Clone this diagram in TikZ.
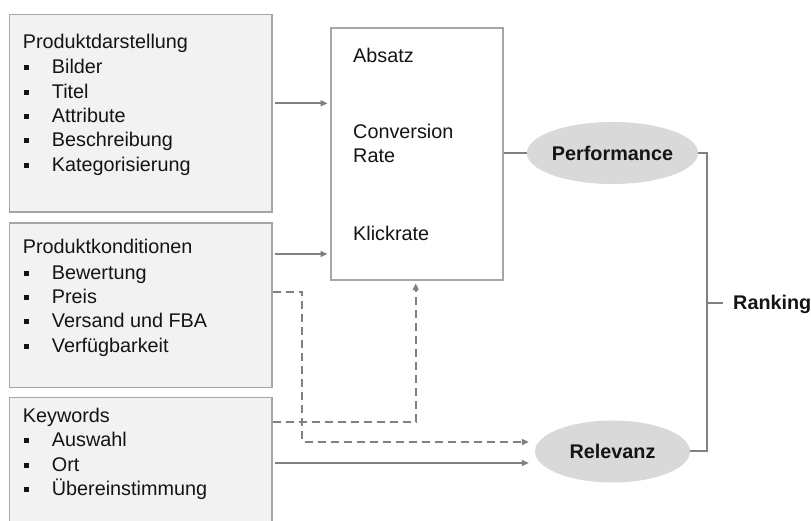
\documentclass[tikz,border=0pt]{standalone}
\usepackage{fontspec}
\setmainfont{Liberation Sans}
\usetikzlibrary{arrows.meta,shapes.geometric}
\definecolor{boxfill}{HTML}{F2F2F2}
\definecolor{boxline}{HTML}{A6A6A6}
\definecolor{connc}{HTML}{808080}
\definecolor{ellfill}{HTML}{D9D9D9}
\definecolor{txt}{HTML}{141414}
\newcommand\bul{\makebox[29pt][l]{\hspace*{1.2pt}\rule[3.8pt]{5pt}{5pt}}}
\begin{document}
\begin{tikzpicture}[x=1pt,y=1pt,
 inbox/.style={draw=boxline, fill=boxfill, line width=1.5pt, inner sep=0, anchor=north west},
 midbox/.style={draw=boxline, fill=white, line width=1.5pt, inner sep=0, anchor=north west},
 lbl/.style={anchor=base west, inner sep=0, text=txt, font=\fontsize{19.8}{23}\selectfont},
 oval/.style={ellipse, fill=ellfill, minimum width=155pt, minimum height=62pt, inner sep=0, text=txt, font=\fontsize{19.8}{23}\selectfont\bfseries},
 conn/.style={draw=connc, line width=2pt},
 arr/.style={conn, -{Triangle[length=7pt,width=6pt]}},
 darr/.style={arr, dash pattern=on 8pt off 5pt},
]
\useasboundingbox (0,0) rectangle (811,521);
% boxes
\node[inbox, minimum width=262.5pt, minimum height=197.5pt] (b1) at (8.5,507) {};
\node[inbox, minimum width=262.5pt, minimum height=164.5pt] (b2) at (8.5,298.5) {};
\node[inbox, minimum width=262.5pt, minimum height=127pt] (b3) at (8.5,124) {};
\node[midbox, minimum width=172pt, minimum height=252pt] (mid) at (330,493.7) {};
% box texts
\foreach \yy/\lab [count=\i] in {472/Produktdarstellung, 447/\bul Bilder, 422.5/\bul Titel, 398.3/\bul Attribute, 374/\bul Beschreibung, 349.5/\bul Kategorisierung}
  \node[lbl] (pa\i) at (22.7,\yy) {\lab};
\foreach \yy/\lab [count=\i] in {267/Produktkonditionen, 241/\bul Bewertung, 217/\bul Preis, 193/\bul Versand und FBA, 168.3/\bul Verfügbarkeit}
  \node[lbl] (pb\i) at (22.7,\yy) {\lab};
\foreach \yy/\lab [count=\i] in {98.3/Keywords, 74/\bul Auswahl, 49.3/\bul Ort, 25.3/\bul Übereinstimmung}
  \node[lbl] (pc\i) at (22.7,\yy) {\lab};
\foreach \yy/\lab [count=\i] in {458/Absatz, 382.7/Conversion, 358.7/Rate, 280.3/Klickrate}
  \node[lbl] (m\i) at (353,\yy) {\lab};
% ovals
\node[oval] (perf) at (612.5,368) {Performance};
\node[oval] (rel) at (612.5,69.5) {Relevanz};
\node[anchor=base west, inner sep=0, text=txt, font=\fontsize{19.8}{23}\selectfont\bfseries] (rank) at (733,211.7) {Ranking};
% coordinates
\coordinate (dj) at (302,79);
\coordinate (rk) at (707,218);
% connectors
\draw[arr, shorten <=2.5pt, shorten >=2.5pt] (b1.east |- 0,417.7) -- (mid.west |- 0,417.7);
\draw[arr, shorten <=2.5pt, shorten >=2.5pt] (b2.east |- 0,267) -- (mid.west |- 0,267);
\draw[conn] (mid.east |- perf.west) -- (perf.west);
\draw[darr] (b2.east |- 0,229) -| (dj) -- ([xshift=-6pt]rel.west |- dj);
\draw[darr, shorten >=2.5pt] (b3.east |- 0,99) -| (mid.south -| 415.7,0);
\draw[arr, shorten <=2.5pt] (b3.east |- 0,58) -- ([xshift=-6pt]rel.west |- 0,58);
\draw[conn] (perf.east) -| (rk) |- (rel.east);
\draw[conn, shorten >=10pt] (rk) -- (rk -| rank.west);
\end{tikzpicture}
\end{document}
